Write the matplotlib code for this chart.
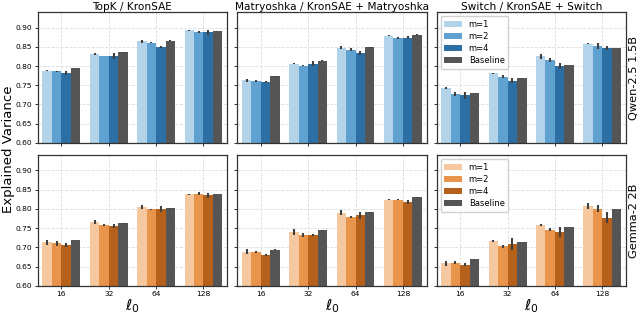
import numpy as np
import matplotlib
matplotlib.use("Agg")
import matplotlib.pyplot as plt
from matplotlib.patches import Patch

l0_labels = ["16", "32", "64", "128"]
series = ["m=1", "m=2", "m=4", "Baseline"]
col_titles = ["TopK / KronSAE", "Matryoshka / KronSAE + Matryoshka", "Switch / KronSAE + Switch"]
row_titles = ["Qwen-2.5 1.5B", "Gemma-2 2B"]

# Qwen-2.5 1.5B (rows: m=1, m=2, m=4, Baseline; cols: l0 16,32,64,128)
qwen_topk = [[0.788, 0.832, 0.864, 0.893],
             [0.786, 0.826, 0.861, 0.888],
             [0.782, 0.826, 0.850, 0.888],
             [0.795, 0.836, 0.866, 0.892]]
qwen_topk_err = [[0.002, 0.002, 0.003, 0.002],
                 [0.002, 0.001, 0.002, 0.002],
                 [0.006, 0.008, 0.003, 0.006],
                 [0.000, 0.001, 0.001, 0.000]]
qwen_matr = [[0.763, 0.806, 0.848, 0.879],
             [0.761, 0.801, 0.843, 0.873],
             [0.758, 0.806, 0.834, 0.874],
             [0.773, 0.814, 0.849, 0.882]]
qwen_matr_err = [[0.004, 0.002, 0.004, 0.002],
                 [0.002, 0.002, 0.003, 0.002],
                 [0.003, 0.006, 0.004, 0.003],
                 [0.001, 0.001, 0.001, 0.001]]
qwen_switch = [[0.742, 0.781, 0.825, 0.858],
               [0.728, 0.772, 0.816, 0.853],
               [0.724, 0.762, 0.800, 0.847],
               [0.729, 0.768, 0.803, 0.846]]
qwen_switch_err = [[0.003, 0.001, 0.007, 0.001],
                   [0.005, 0.004, 0.006, 0.008],
                   [0.009, 0.007, 0.008, 0.006],
                   [0.000, 0.001, 0.000, 0.000]]

# Gemma-2 2B
gemma_topk = [[0.713, 0.766, 0.806, 0.838],
              [0.710, 0.758, 0.799, 0.840],
              [0.705, 0.756, 0.799, 0.835],
              [0.719, 0.763, 0.802, 0.839]]
gemma_topk_err = [[0.006, 0.006, 0.005, 0.002],
                  [0.007, 0.002, 0.002, 0.004],
                  [0.005, 0.006, 0.008, 0.006],
                  [0.000, 0.001, 0.001, 0.000]]
gemma_matr = [[0.689, 0.740, 0.790, 0.824],
              [0.687, 0.732, 0.779, 0.824],
              [0.680, 0.732, 0.783, 0.817],
              [0.694, 0.744, 0.791, 0.830]]
gemma_matr_err = [[0.007, 0.007, 0.006, 0.002],
                  [0.003, 0.005, 0.002, 0.002],
                  [0.002, 0.003, 0.008, 0.005],
                  [0.001, 0.001, 0.001, 0.001]]
gemma_switch = [[0.658, 0.716, 0.758, 0.808],
                [0.660, 0.703, 0.746, 0.801],
                [0.655, 0.709, 0.740, 0.777],
                [0.669, 0.714, 0.754, 0.799]]
gemma_switch_err = [[0.006, 0.002, 0.002, 0.008],
                    [0.004, 0.004, 0.004, 0.010],
                    [0.004, 0.016, 0.013, 0.014],
                    [0.000, 0.000, 0.000, 0.000]]

data = [[qwen_topk, qwen_matr, qwen_switch],
        [gemma_topk, gemma_matr, gemma_switch]]
errs = [[qwen_topk_err, qwen_matr_err, qwen_switch_err],
        [gemma_topk_err, gemma_matr_err, gemma_switch_err]]

blues = ["#b2d3ea", "#5fa2d2", "#2b6fa5", "#555555"]
oranges = ["#f5c8a0", "#e8944b", "#b5601b", "#555555"]
palettes = [blues, oranges]

fig, axes = plt.subplots(2, 3, figsize=(6.4, 3.14), dpi=100, sharey=True)
fig.subplots_adjust(left=0.059, right=0.978, top=0.961, bottom=0.090,
                    wspace=0.053, hspace=0.094)

x = np.arange(len(l0_labels))
bw = 0.8 / 4
for r in range(2):
    for c in range(3):
        ax = axes[r, c]
        ax.set_axisbelow(True)
        vals = np.array(data[r][c])
        er = np.array(errs[r][c])
        for i, s in enumerate(series):
            pos = x - 0.4 + bw * (i + 0.5)
            ax.bar(pos, vals[i], width=bw, color=palettes[r][i], label=s,
                   edgecolor="none", zorder=2)
            ax.errorbar(pos, vals[i], yerr=er[i], fmt="none", ecolor="#404040",
                        elinewidth=1.5, capsize=0, zorder=3)
        ax.set_xlim(-0.5, 3.5)
        ax.set_ylim(0.60, 0.94)
        ax.set_yticks(np.arange(0.60, 0.9001, 0.05))
        ax.set_xticks(x)
        ax.grid(True, linestyle="--", color="#dddddd", linewidth=0.6)
        ax.tick_params(axis="both", labelsize=5.4, length=2.5, width=0.7,
                       color="#333333", pad=1.5)
        for sp in ax.spines.values():
            sp.set_color("#333333")
            sp.set_linewidth(0.9)
        if c == 0:
            ax.yaxis.set_major_formatter(matplotlib.ticker.FormatStrFormatter("%.2f"))
        if r == 0:
            ax.set_title(col_titles[c], fontsize=7.6, pad=1.5)
            ax.tick_params(axis="x", labelbottom=False)
        else:
            ax.set_xticklabels(l0_labels)
            ax.set_xlabel(r"$\ell_0$", fontsize=11, labelpad=0)
        if c == 2:
            ax.yaxis.set_label_position("right")
            ax.set_ylabel(row_titles[r], fontsize=8.2, rotation=90, labelpad=2)
            handles = [Patch(facecolor=palettes[r][i], label=series[i]) for i in range(4)]
            ax.legend(handles=handles, loc="upper left", fontsize=6,
                      frameon=True, framealpha=0.9, edgecolor="#cccccc",
                      handlelength=2.1, handleheight=0.75, borderpad=0.45,
                      labelspacing=0.35, handletextpad=0.8)

fig.text(0.013, 0.525, "Explained Variance", rotation=90, va="center", ha="center",
         fontsize=9.5)

fig.savefig("out.png", dpi=100)
